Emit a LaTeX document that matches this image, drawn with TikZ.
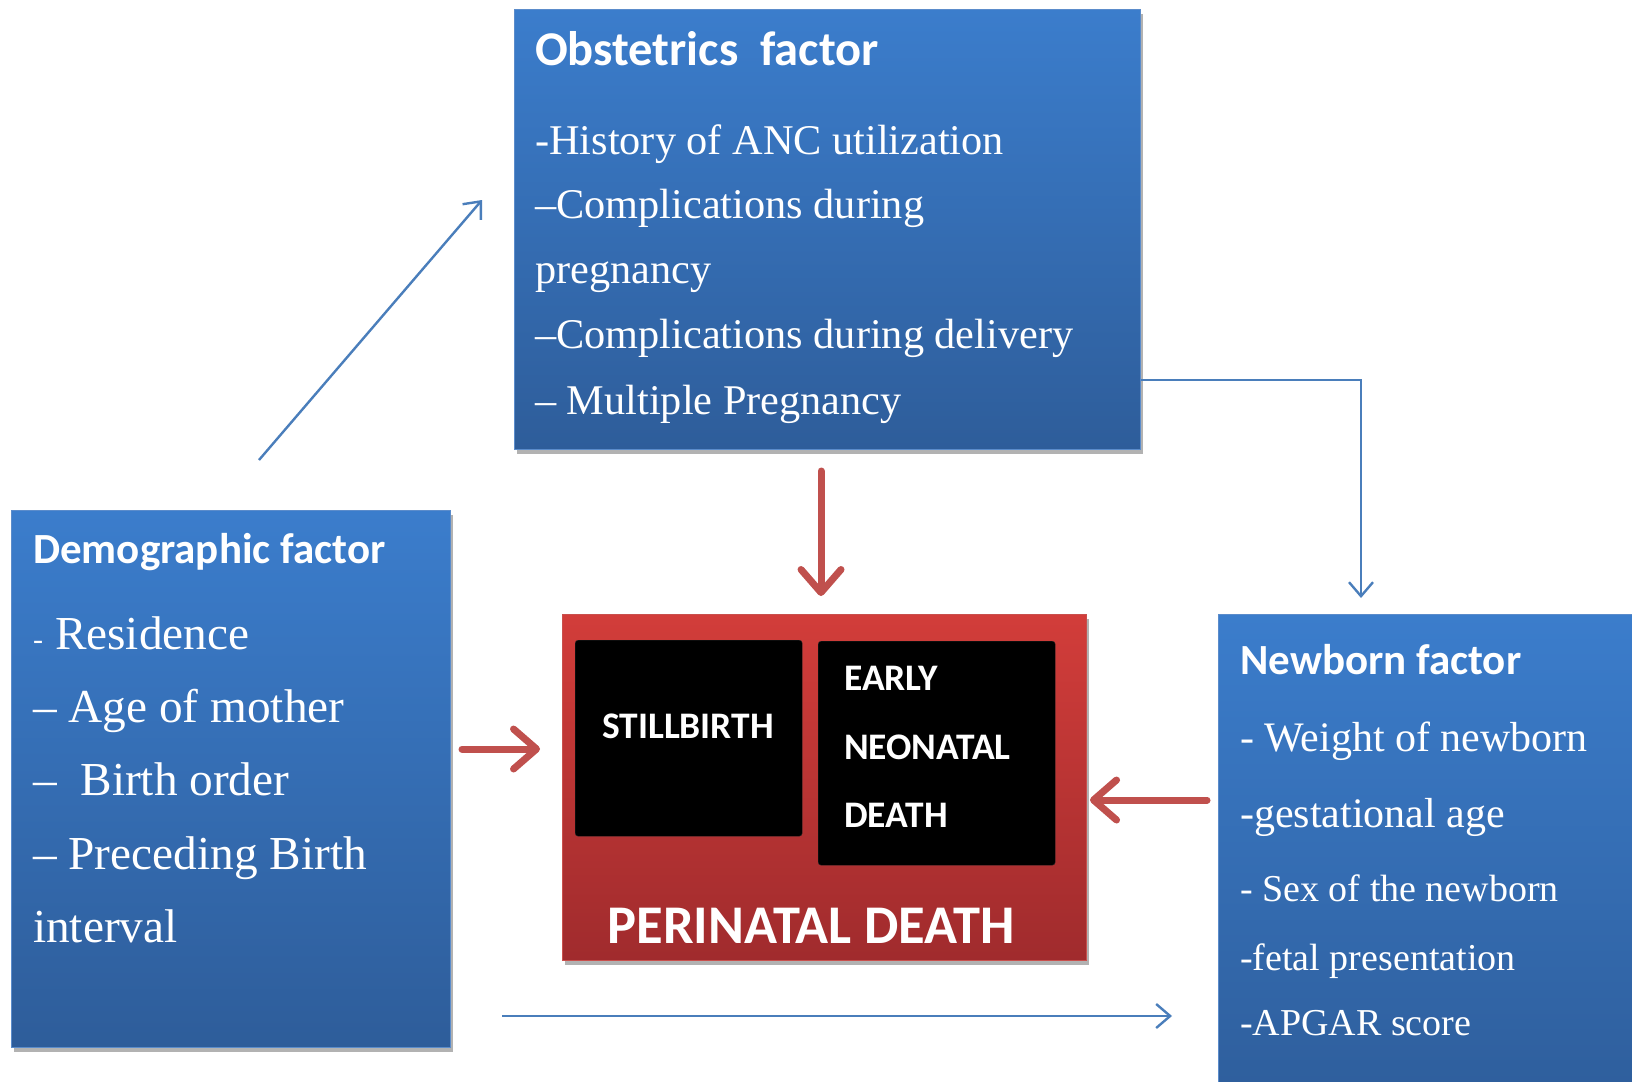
\documentclass[tikz,border=0pt]{standalone}
\usepackage{fontspec}
\setmainfont{Liberation Serif}
\newfontfamily\calibrifont{Carlito}
\usetikzlibrary{arrows.meta,calc,positioning,shadows}
\definecolor{factorbluetop}{HTML}{3B7DCC}
\definecolor{factorbluebot}{HTML}{2E5D9A}
\definecolor{factorblueline}{HTML}{5B8CCB}
\definecolor{deathredtop}{HTML}{D23D3A}
\definecolor{deathredbot}{HTML}{A02B2D}
\definecolor{deathredline}{HTML}{C9504D}
\definecolor{linkblue}{HTML}{4A7EBB}
\definecolor{linkred}{HTML}{C0504D}
\tikzset{
  factorbox/.style={rectangle, anchor=north west, draw=factorblueline, line width=1.2pt,
    top color=factorbluetop, bottom color=factorbluebot,
    drop shadow={shadow xshift=2pt, shadow yshift=-4pt, opacity=.3, fill=black}},
  deathbox/.style={rectangle, anchor=north west, draw=deathredline, line width=1.2pt,
    top color=deathredtop, bottom color=deathredbot,
    drop shadow={shadow xshift=2pt, shadow yshift=-4pt, opacity=.3, fill=black}},
  innerbox/.style={rectangle, anchor=north west, fill=black, draw=black!85, rounded corners=3pt},
  headtext/.style={anchor=base west, inner sep=0pt, text=white,
    font=\calibrifont\bfseries\fontsize{43}{43}\selectfont},
  itemtext/.style={anchor=base west, inner sep=0pt, text=white},
  capstext/.style={inner sep=0pt, text=white, font=\calibrifont\bfseries\fontsize{37.5}{37.5}\selectfont},
  bluelink/.style={linkblue, line width=2.4pt, -{Straight Barb[length=14pt,width=24pt]}},
  redlink/.style={linkred, line width=7pt, line cap=round, -{Straight Barb[length=23pt,width=40pt,round]}}
}

\begin{document}
\begin{tikzpicture}[x=1pt,y=-1pt]
  \path[use as bounding box, fill=white] (0,0) rectangle (1632,1081);
  \clip (0,0) rectangle (1632,1081);
  % factor boxes
  \node[factorbox, minimum width=626pt, minimum height=440pt] (obstetric) at (514,9) {};
  \node[factorbox, minimum width=439pt, minimum height=537pt] (demographic) at (11,510) {};
  \node[factorbox, minimum width=440pt, minimum height=500pt] (newborn) at (1218,614) {};
  % outcome
  \node[deathbox, minimum width=524pt, minimum height=346pt] (perinatal) at (562,614) {};
  \node[innerbox, minimum width=227pt, minimum height=196pt] (stillbox) at (575,640) {};
  \node[innerbox, minimum width=237pt, minimum height=224pt] (enndbox) at (818,641) {};

  % obstetrics
  \node[headtext, font=\calibrifont\bfseries\fontsize{48.5}{48.5}\selectfont] (obstitle) at (535,65.6) {Obstetrics\ \ factor};
  \foreach \ty/\tx [count=\i] in {154/-History of ANC utilization, 218.6/--Complications during,
      283/pregnancy, 348.7/--Complications during delivery, 414/-- Multiple Pregnancy}
    \node[itemtext, font=\fontsize{42.3}{42.3}\selectfont] (obsitem\i) at (535,\ty) {\tx};

  % demographic
  \node[headtext] (demotitle) at (33,563) {Demographic factor};
  \foreach \ty/\tx [count=\i] in {649.5/{{\fontsize{30}{30}\selectfont-} Residence}, 722/-- Age of mother,
      795/--\ \ Birth order, 869/-- Preceding Birth, 942/interval}
    \node[itemtext, font=\fontsize{47.3}{47.3}\selectfont] (demoitem\i) at (33,\ty) {\tx};

  % newborn
  \node[headtext] (nbtitle) at (1240,674.5) {Newborn factor};
  \foreach \ty/\tx/\fs [count=\i] in {751.5/- Weight of newborn/42, 827/-gestational age/42,
      901/- Sex of the newborn/38, 970/-fetal presentation/38, 1035.6/-APGAR score/38}
    \node[itemtext, font=\fontsize{\fs}{\fs}\selectfont] (nbitem\i) at (1240,\ty) {\tx};

  % perinatal death
  \node[capstext] (stilltext) at (688,726.5) {STILLBIRTH};
  \node[capstext, anchor=west, align=left, font=\calibrifont\bfseries\fontsize{37.5}{68.7}\selectfont] (enndtext) at (844,747) {EARLY\\NEONATAL\\DEATH};
  \node[capstext, font=\calibrifont\bfseries\fontsize{54.5}{54.5}\selectfont] (perinataltext) at (811,926) {PERINATAL DEATH};

  % links
  \coordinate (diagfrom) at (259,460);
  \coordinate (diagto) at (482,200);
  \coordinate (elbowfrom) at (obstetric.east |- 0,380);
  \coordinate (elbowto) at (1361,598);
  \coordinate (bottomfrom) at (502,1016);
  \coordinate (bottomto) at (1172,1016);
  \draw[bluelink] (diagfrom) -- (diagto);
  \draw[bluelink] (elbowfrom) -| (elbowto);
  \draw[bluelink] (bottomfrom) -- (bottomto);

  \coordinate (obsdown) at (821,471);
  \coordinate (perintop) at (821,596);
  \coordinate (demoout) at (462,749);
  \coordinate (perinleft) at (540,749);
  \coordinate (nbout) at (1207,800);
  \coordinate (perinright) at (1090,800);
  \draw[redlink] (obsdown) -- (perintop);
  \draw[redlink] (demoout) -- (perinleft);
  \draw[redlink] (nbout) -- (perinright);
\end{tikzpicture}
\end{document}
